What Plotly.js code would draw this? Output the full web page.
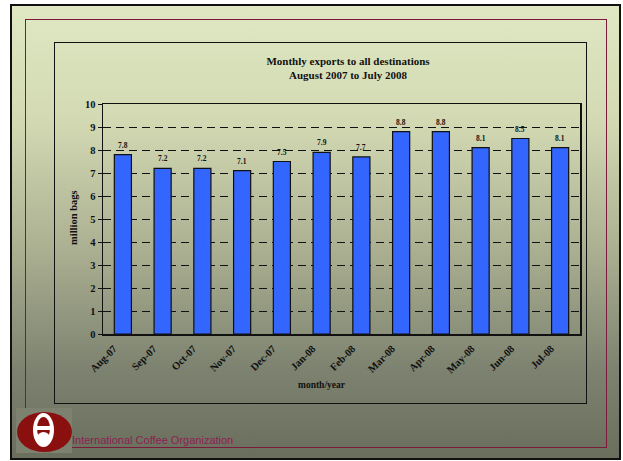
<!DOCTYPE html>
<html>
<head>
<meta charset="utf-8">
<script src="https://cdn.plot.ly/plotly-3.0.1.min.js"></script>
<style>
  html, body { margin: 0; padding: 0; background: #ffffff; }
  #wrap { position: relative; width: 623px; height: 461px; overflow: hidden; }
  #frame { position: absolute; left: 10px; top: 4px; width: 611px; height: 456px; box-sizing: border-box;
           border: 2.5px solid #111; background: linear-gradient(to bottom, #dfe8c3 0%, #d3dab3 25%, #a9ae90 55%, #7d8370 80%, #6a6f5d 100%); }
  #maroon { position: absolute; left: 25px; top: 19px; width: 582px; height: 429px; box-sizing: border-box;
            border: 1px solid #7d1a3c; }
  #box { position: absolute; left: 54px; top: 42px; width: 533px; height: 362px; box-sizing: border-box;
         border: 1.5px solid #111; }
  #chart { position: absolute; left: 0; top: 0; width: 623px; height: 461px; }
</style>
</head>
<body>
<div id="wrap">
  <div id="frame"></div>
  <div id="maroon"></div>
  <div id="box"></div>
  <div id="chart"></div>
</div>
<script>
const months = ["Aug-07","Sep-07","Oct-07","Nov-07","Dec-07","Jan-08","Feb-08","Mar-08","Apr-08","May-08","Jun-08","Jul-08"];
const exportsMillionBags = [7.8, 7.2, 7.2, 7.1, 7.5, 7.9, 7.7, 8.8, 8.8, 8.1, 8.5, 8.1];
const chartTitle = "Monthly exports to all destinations<br>August 2007 to July 2008";
const yTitle = "million bags";
const xTitle = "month/year";
const orgName = "International Coffee Organization";

// plot area in pixels
const PL = 103, PR = 580, PT = 104, PB = 334;
const px = x => (x - PL) / (PR - PL);
const py = y => (PB - y) / (PB - PT);

const serif = "Liberation Serif, Times New Roman, serif";

const bars = {
  type: "bar",
  x: months,
  y: exportsMillionBags,
  marker: { color: "#3366ff", line: { color: "#111", width: 1.2 } },
  hoverinfo: "none"
};

const valueLabels = months.map((m, i) => ({
  x: m, y: exportsMillionBags[i], xref: "x", yref: "y",
  text: exportsMillionBags[i].toFixed(1),
  showarrow: false, xanchor: "center", yanchor: "bottom", yshift: 3,
  font: { family: serif, size: 7.5, color: "#111", weight: "bold" }
}));

function rect(x0, y0, x1, y1, fill, line) {
  return { type: "rect", xref: "paper", yref: "paper", x0: px(x0), x1: px(x1), y0: py(y1), y1: py(y0),
           fillcolor: fill, line: { width: line ? 1 : 0, color: line || fill }, layer: "above" };
}
function ell(x0, y0, x1, y1, fill) {
  return { type: "circle", xref: "paper", yref: "paper", x0: px(x0), x1: px(x1), y0: py(y1), y1: py(y0),
           fillcolor: fill, line: { width: 0 }, layer: "above" };
}

const shapes = [
  rect(16, 408, 72, 453, "#7c8170"),
  ell(17, 412, 72, 452, "#8a1010"),
  ell(33, 413, 54, 447, "#ffffff"),
  ell(37, 417, 50, 440, "#8a1010"),
  rect(34, 426, 53, 430, "#ffffff"),
  ell(37, 432, 50, 444, "#ffffff")
];

const layout = {
  width: 623, height: 461,
  margin: { l: PL, r: 623 - PR, t: PT, b: 461 - PB },
  paper_bgcolor: "rgba(0,0,0,0)",
  plot_bgcolor: "rgba(0,0,0,0)",
  showlegend: false,
  bargap: 0.57,
  title: {
    text: chartTitle,
    font: { family: serif, size: 11, color: "#111", weight: "bold" },
    x: 320 / 623, xanchor: "center", xref: "paper",
    y: 1 - 65 / 461, yanchor: "top", yref: "container"
  },
  xaxis: {
    type: "category",
    tickangle: -45,
    tickfont: { family: serif, size: 10.5, color: "#111", weight: "bold" },
    ticklabelshift: -9,
    ticklabelstandoff: 3,
    showline: true, mirror: true, linecolor: "#111", linewidth: 1.5,
    ticks: "", showgrid: false, fixedrange: true
  },
  yaxis: {
    range: [0, 10], dtick: 1,
    tickfont: { family: serif, size: 10.5, color: "#111", weight: "bold" },
    showline: true, mirror: true, linecolor: "#111", linewidth: 1.5,
    ticks: "outside", ticklen: 4, tickcolor: "#111",
    showgrid: true, gridcolor: "#111", gridwidth: 1, griddash: "8px,5px",
    zeroline: false, fixedrange: true
  },
  shapes: shapes,
  annotations: valueLabels.concat([
    { text: yTitle, xref: "paper", yref: "paper", x: px(73), y: py(218), xanchor: "center", yanchor: "middle",
      textangle: -90, showarrow: false, font: { family: serif, size: 10.5, color: "#111", weight: "bold" } },
    { text: xTitle, xref: "paper", yref: "paper", x: px(322), y: py(385), xanchor: "center", yanchor: "middle",
      showarrow: false, font: { family: serif, size: 9.5, color: "#111", weight: "bold" } },
    { text: orgName, xref: "paper", yref: "paper", x: px(70), y: py(440), xanchor: "left", yanchor: "middle",
      showarrow: false, font: { family: "Liberation Sans, Arial, sans-serif", size: 11, color: "#8b2252" } }
  ])
};

Plotly.newPlot("chart", [bars], layout, { staticPlot: true, displayModeBar: false });
</script>
</body>
</html>
